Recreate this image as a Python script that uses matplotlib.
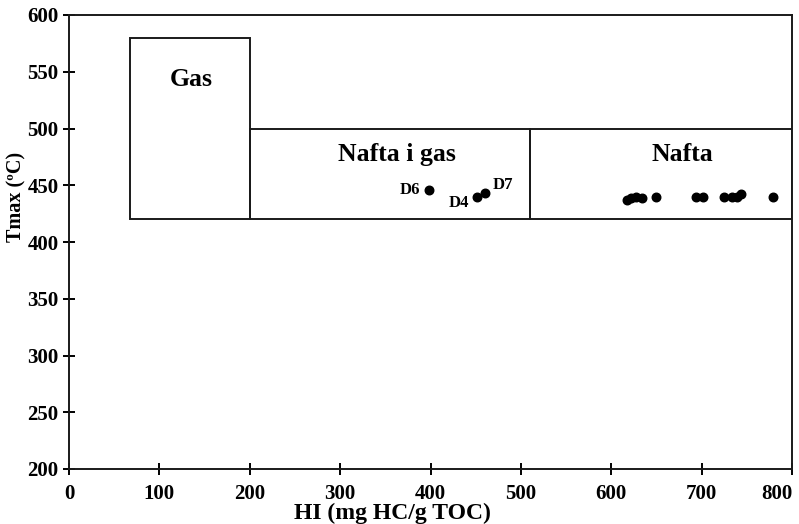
import matplotlib.pyplot as plt
from matplotlib.patches import Rectangle

# Diagrama HI vs Tmax amb zones de gas / nafta

# zones: (x0, x1, y0, y1, etiqueta, posicio etiqueta)
zona_noms = ["Gas", "Nafta i gas", "Nafta"]
zona_x0 = [67, 200, 510]
zona_x1 = [200, 510, 800]
zona_y0 = [420, 420, 420]
zona_y1 = [580, 500, 500]
zona_tx = [135, 363, 679]
zona_ty = [543, 477, 477]

# mostres
hi_mostres = [617, 622, 627, 634, 650, 694, 702, 725, 734, 739, 744, 779]
tmax_mostres = [437, 439, 440, 439, 440, 440, 440, 440, 440, 440, 442, 440]

noms_d = ["D6", "D4", "D7"]
hi_d = [398, 452, 460]
tmax_d = [446, 440, 443]
txt_dx = [-21, -21, 20]
txt_dy = [0, -6, 7]

plt.rcParams['font.family'] = ['Liberation Serif', 'DejaVu Serif']
plt.rcParams['font.weight'] = 'bold'

fig = plt.figure(figsize=(7.99, 5.24), dpi=100)
ax = fig.add_axes([69/799, 1-469/524, (792-69)/799, (469-15)/524])

for x0, x1, y0, y1, nom, tx, ty in zip(zona_x0, zona_x1, zona_y0, zona_y1, zona_noms, zona_tx, zona_ty):
    ax.add_patch(Rectangle((x0, y0), x1-x0, y1-y0, fill=False, edgecolor='#1a1a1a', lw=1.4))
    ax.text(tx, ty, nom, ha='center', va='center', fontsize=18.5, fontweight='bold')

ax.scatter(hi_mostres, tmax_mostres, s=38, color='black', zorder=3)
ax.scatter(hi_d, tmax_d, s=38, color='black', zorder=3)
for nom, x, y, dx, dy in zip(noms_d, hi_d, tmax_d, txt_dx, txt_dy):
    ax.text(x+dx, y+dy, nom, ha='center', va='center', fontsize=12, fontweight='bold')

ax.set_xlim(0, 800)
ax.set_ylim(200, 600)
ax.set_xticks(range(0, 801, 100))
ax.set_yticks(range(200, 601, 50))
ax.tick_params(direction='inout', length=9, width=1.4, labelsize=15)
ax.tick_params(axis='x', pad=6)
ax.tick_params(axis='y', pad=3)
ax.get_xticklabels()[-1].set_horizontalalignment('right')
for s in ax.spines.values():
    s.set_linewidth(1.4)
    s.set_color('#1a1a1a')

fig.text(392/799, 1-513/524, "HI (mg HC/g TOC)", ha='center', va='center', fontsize=17, fontweight='bold')
fig.text(16/799, 1-197/524, "Tmax (ºC)", ha='center', va='center', rotation=90, fontsize=14.5, fontweight='bold')

plt.savefig("out.png", dpi=100)
